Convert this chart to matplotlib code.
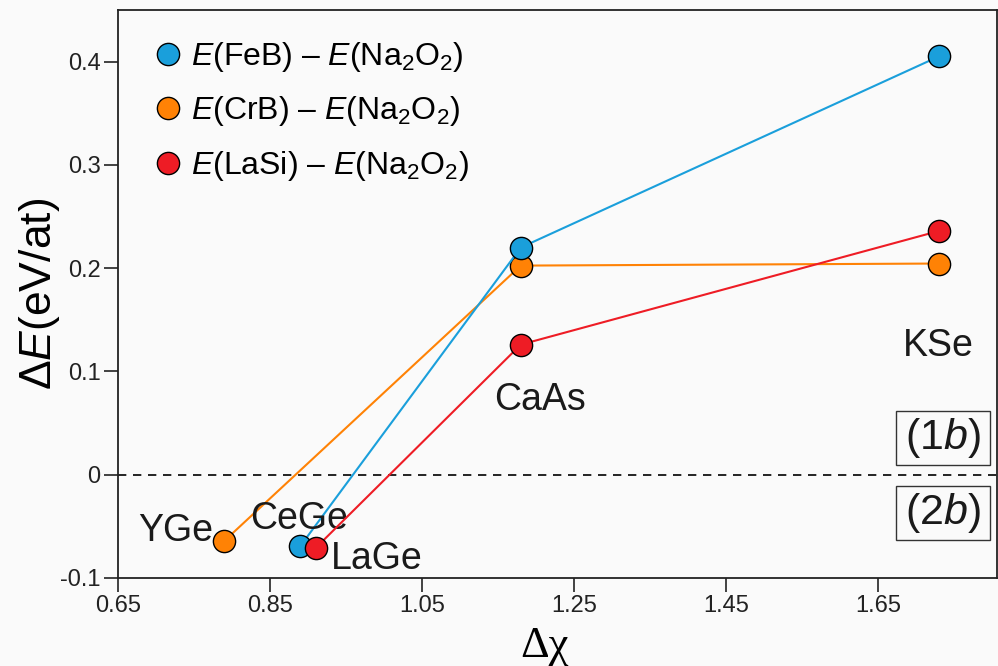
import matplotlib
matplotlib.use("Agg")
import matplotlib.pyplot as plt
from matplotlib.lines import Line2D
from matplotlib.patches import Rectangle

plt.rcParams["font.family"] = ["Liberation Sans", "DejaVu Sans"]
plt.rcParams["mathtext.fontset"] = "custom"
plt.rcParams["mathtext.rm"] = "Liberation Sans"
plt.rcParams["mathtext.it"] = "Liberation Sans:italic"

# data: delta chi of each compound, energy differences (eV/at)
compounds = ["YGe", "CeGe", "LaGe", "CaAs", "KSe"]
dchi = {"YGe": 0.79, "CeGe": 0.89, "LaGe": 0.91, "CaAs": 1.18, "KSe": 1.73}

feb_x = [0.89, 1.18, 1.73]
feb_y = [-0.069, 0.220, 0.405]
crb_x = [0.79, 1.18, 1.73]
crb_y = [-0.064, 0.2025, 0.2045]
lasi_x = [0.91, 1.18, 1.73]
lasi_y = [-0.071, 0.126, 0.236]

xticks = [0.65, 0.85, 1.05, 1.25, 1.45, 1.65]
yticks = [-0.1, 0, 0.1, 0.2, 0.3, 0.4]
ytick_labels = ["-0.1", "0", "0.1", "0.2", "0.3", "0.4"]

c_blue = "#1a9fdb"
c_orange = "#ff8205"
c_red = "#ee1c25"

W, H = 998, 666
fig = plt.figure(figsize=(W / 100, H / 100), dpi=100)
fig.patch.set_facecolor("#fafafa")
ax = fig.add_axes([118 / W, 1 - 578 / H, (997 - 118) / W, (578 - 10) / H])
ax.set_facecolor("#fafafa")

mk = dict(marker="o", markersize=16, markeredgecolor="black", markeredgewidth=1.0, lw=1.5)
ax.plot(crb_x, crb_y, color=c_orange, markerfacecolor=c_orange, zorder=3, **mk)
ax.plot(lasi_x, lasi_y, color=c_red, markerfacecolor=c_red, zorder=4, **mk)
ax.plot(feb_x, feb_y, color=c_blue, markerfacecolor=c_blue, zorder=3, **mk)

ax.axhline(0, color="black", lw=1.2, ls=(0, (5, 4)), zorder=1)

ax.set_xlim(0.65, 0.65 + (997 - 118) / 760)
ax.set_ylim(-0.1, 0.45)
ax.set_xticks(xticks)
ax.set_xticklabels([f"{t:.2f}" for t in xticks])
ax.set_yticks(yticks)
ax.set_yticklabels(ytick_labels)
ax.tick_params(axis="both", direction="out", length=10, width=1.2, labelsize=17,
               colors="#222222", pad=2.5)
for s in ax.spines.values():
    s.set_linewidth(1.3)
    s.set_color("#222222")

# compound labels (offsets in pixels, baseline anchored)
lab = dict(fontsize=27, color="#1a1a1a", textcoords="offset pixels",
           ha="center", va="baseline")
ax.annotate("YGe", (dchi["YGe"], crb_y[0]), xytext=(-49, 0), **lab)
ax.annotate("CeGe", (dchi["CeGe"], feb_y[0]), xytext=(-1, 17), **lab)
ax.annotate("LaGe", (dchi["LaGe"], lasi_y[0]), xytext=(61, -21), **lab)
ax.annotate("CaAs", (dchi["CaAs"], lasi_y[1]), xytext=(19, -65), **lab)
ax.annotate("KSe", (dchi["KSe"], crb_y[2]), xytext=(0, -92), **lab)

# region boxes (1b) above and (2b) below the zero line
for txt, top in ((r"(1$b$)", 411), (r"(2$b$)", 486)):
    fig.patches.append(Rectangle((896 / W, 1 - (top + 54) / H), 94 / W, 54 / H,
                                 transform=fig.transFigure, fill=False,
                                 ec="#333333", lw=1.0, zorder=5))
    fig.text(943 / W, 1 - (top + 27) / H, txt, fontsize=31, ha="center",
             va="center", color="#1a1a1a")

handles = [
    Line2D([], [], ls="none", marker="o", markersize=16, markerfacecolor=c, markeredgecolor="black")
    for c in (c_blue, c_orange, c_red)
]
names = [r"$E$(FeB) – $E$(Na$_2$O$_2$)", r"$E$(CrB) – $E$(Na$_2$O$_2$)",
         r"$E$(LaSi) – $E$(Na$_2$O$_2$)"]
ax.legend(handles, names, loc="upper left", bbox_to_anchor=(0.0137, 0.998), frameon=False,
          fontsize=23, handlelength=0.6, handletextpad=0.4, labelspacing=0.64,
          borderaxespad=0.5, borderpad=0.4)

ax.set_ylabel(r"$\Delta E$(eV/at)", fontsize=32, labelpad=-1)
fig.text(545 / W, 1 - 646 / H, "Δχ", family="Liberation Serif", fontsize=32,
         ha="center", va="center")

fig.savefig("out.png", dpi=100, facecolor=fig.get_facecolor())
